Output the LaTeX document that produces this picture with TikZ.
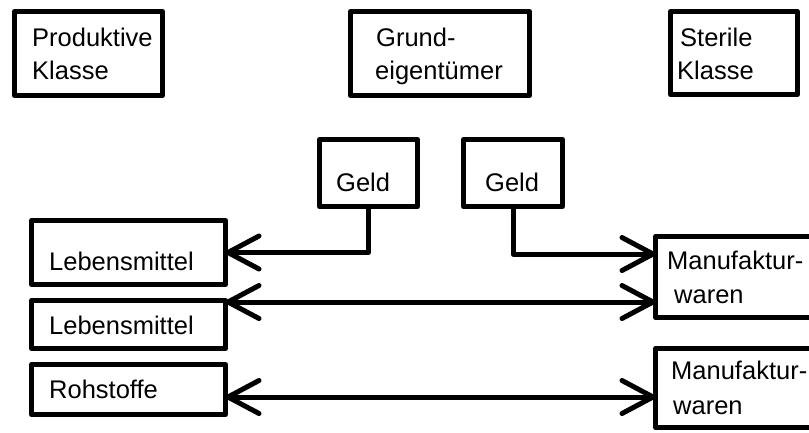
\documentclass[tikz,border=0pt]{standalone}
\usepackage{fontspec}
\setmainfont{Liberation Sans}
\usetikzlibrary{arrows.meta,calc}

\begin{document}
\begin{tikzpicture}[x=1bp,y=1bp,
  box/.style={draw, line width=5bp, line join=round, rectangle, anchor=north west,
    inner sep=0pt, outer sep=0pt},
  txt/.style={anchor=base west, inner sep=0pt,
    font=\fontsize{25.5bp}{31bp}\selectfont},
  barb/.tip={Straight Barb[length=31bp,width=33bp,round]},
  arr/.style={line width=5bp, line cap=round, line join=round, -barb},
  arrboth/.style={line width=5bp, line cap=round, line join=round, barb-barb}]
\useasboundingbox (0,0) rectangle (809,-432);
\clip (0,0) rectangle (809,-432);

% the three classes
\node[box, minimum width=148bp, minimum height=84bp] (prod) at (14.5,-11.5) {};
\node[box, minimum width=179bp, minimum height=84bp] (grund) at (350.5,-11.5) {};
\node[box, minimum width=127bp, minimum height=83bp] (steril) at (670.5,-11.5) {};
\node[txt] (prodA) at (32,-46.5) {Produktive};
\node[txt] (prodB) at (32,-79.5) {Klasse};
\node[txt] (grundA) at (376,-46.5) {Grund-};
\node[txt] (grundB) at (375,-79.5) {eigentümer};
\node[txt] (sterA) at (680,-46.5) {Sterile};
\node[txt] (sterB) at (677,-79.5) {Klasse};

% money of the landowners
\node[box, minimum width=98bp, minimum height=67bp] (geld1) at (319.5,-139.5) {};
\node[box, minimum width=99bp, minimum height=67bp] (geld2) at (463.5,-139.5) {};
\node[txt] (geldA) at (336,-191) {Geld};
\node[txt] (geldB) at (485,-191) {Geld};

% goods of the productive class
\node[box, minimum width=194bp, minimum height=64bp] (leb1) at (31.5,-220.5) {};
\node[box, minimum width=194bp, minimum height=48bp] (leb2) at (31.5,-300.5) {};
\node[box, minimum width=194bp, minimum height=50bp] (roh) at (31.5,-364.5) {};
\node[txt] (lebA) at (49,-270) {Lebensmittel};
\node[txt] (lebB) at (49,-334) {Lebensmittel};
\node[txt] (rohA) at (49,-398) {Rohstoffe};

% goods of the sterile class
\node[box, minimum width=170bp, minimum height=81bp] (manu1) at (655.5,-236.5) {};
\node[box, minimum width=170bp, minimum height=79bp] (manu2) at (655.5,-348.5) {};
\node[txt] (manuA) at (667,-269) {Manufaktur-};
\node[txt] (manuB) at (674,-303) {waren};
\node[txt] (manuC) at (671,-379) {Manufaktur-};
\node[txt] (manuD) at (673,-414) {waren};

% flows
\coordinate (m1in) at ($(manu1.north west)+(0,-17.5)$);
\coordinate (l2out) at ($(leb2.north east)+(0,-1.5)$);
\coordinate (rout) at ($(roh.east)+(0,-7.5)$);

\draw[arr] (geld1.south) |- (leb1.east);
\draw[arr] (geld2.south) |- (m1in);
\draw[arrboth] (l2out) -- (l2out -| manu1.west);
\draw[arrboth] (rout) -- (rout -| manu2.west);
\end{tikzpicture}
\end{document}
